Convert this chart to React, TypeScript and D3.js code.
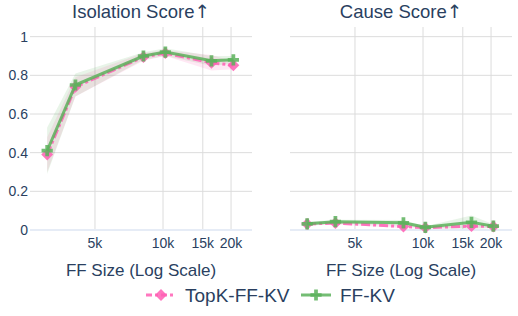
import React from 'react';
import * as d3 from 'd3';

// FF sizes (x) shared by both panels
const ffSizes = [3072, 4096, 8192, 10240, 16384, 20480];
const xTicks = [5000, 10000, 15000, 20000];
const xTickLabels = ['5k', '10k', '15k', '20k'];
const yTicks = [0, 0.2, 0.4, 0.6, 0.8, 1];

// Isolation score
const isoTopK = [0.39, 0.74, 0.895, 0.915, 0.865, 0.852];
const isoTopKStd = [0.09, 0.05, 0.02, 0.015, 0.04, 0.02];
const isoFF = [0.41, 0.75, 0.9, 0.92, 0.875, 0.88];
const isoFFStd = [0.12, 0.06, 0.02, 0.02, 0.025, 0.02];

// Cause score
const causeTopK = [0.031, 0.036, 0.018, 0.012, 0.02, 0.018];
const causeTopKStd = [0.008, 0.008, 0.008, 0.005, 0.008, 0.006];
const causeFF = [0.032, 0.043, 0.037, 0.014, 0.04, 0.02];
const causeFFStd = [0.01, 0.01, 0.015, 0.005, 0.035, 0.01];

const PINK = '#ff5fb4';
const GREEN = '#5cb25c';
const TEXT = '#2a3f5f';
const FONT = '"Liberation Sans", Arial, sans-serif';

const W = 518;
const H = 316;
const top = 27;
const bottom = 230;

const yScale = d3.scaleLinear().domain([0, 1.05]).range([bottom, top]);

type Marker = 'diamond' | 'cross';

const markerPath = (kind: Marker) => {
  const sym = kind === 'diamond' ? d3.symbolDiamond2 : d3.symbolCross;
  return d3.symbol().type(sym).size(kind === 'diamond' ? 90 : 70)() as string;
};

interface SeriesProps {
  x: d3.ScaleLogarithmic<number, number>;
  vals: number[];
  std: number[];
  color: string;
  dash?: string;
  marker: Marker;
}

const Band: React.FC<SeriesProps> = ({ x, vals, std, color }) => {
  const pts = ffSizes.map((s, i) => ({ s, v: vals[i], e: std[i] }));
  const area = d3
    .area<any>()
    .x(d => x(d.s))
    .y0(d => yScale(d.v - d.e))
    .y1(d => yScale(d.v + d.e));
  return <path d={area(pts) as string} fill={color} fillOpacity={0.14} />;
};

const Series: React.FC<SeriesProps> = ({ x, vals, color, dash, marker }) => {
  const pts = ffSizes.map((s, i) => ({ s, v: vals[i] }));
  const line = d3.line<any>().x(d => x(d.s)).y(d => yScale(d.v));
  return (
    <g>
      <path
        d={line(pts) as string}
        fill="none"
        stroke={color}
        strokeWidth={3}
        strokeOpacity={0.85}
        strokeDasharray={dash}
      />
      {pts.map((d, i) => (
        <path
          key={i}
          d={markerPath(marker)}
          transform={`translate(${x(d.s)},${yScale(d.v)})`}
          fill={color}
          fillOpacity={0.85}
        />
      ))}
    </g>
  );
};

interface PanelProps {
  x0: number;
  x1: number;
  title: string;
  topk: number[];
  topkStd: number[];
  ff: number[];
  ffStd: number[];
  showY: boolean;
}

const Panel: React.FC<PanelProps> = ({ x0, x1, title, topk, topkStd, ff, ffStd, showY }) => {
  const x = d3.scaleLog().domain([2579, 24760]).range([x0, x1]);
  return (
    <g>
      {yTicks.filter(t => t !== 0).map(t => (
        <line key={t} x1={x0} x2={x1} y1={yScale(t)} y2={yScale(t)} stroke="#dcdcdc" strokeWidth={1} />
      ))}
      {xTicks.map(t => (
        <line key={t} x1={x(t)} x2={x(t)} y1={top} y2={bottom} stroke="#dcdcdc" strokeWidth={1} />
      ))}
      <line x1={x0} x2={x1} y1={yScale(0)} y2={yScale(0)} stroke="#e6ecf6" strokeWidth={2} />
      {showY &&
        yTicks.map(t => (
          <text
            key={t}
            x={x0 - 2}
            y={yScale(t)}
            dy="0.35em"
            textAnchor="end"
            fontSize={14}
            fill={TEXT}
            fontFamily={FONT}
          >
            {d3.format('~g')(t)}
          </text>
        ))}
      {xTicks.map((t, i) => (
        <text key={t} x={x(t)} y={bottom + 8} dy="0.71em" textAnchor="middle" fontSize={14} fill={TEXT} fontFamily={FONT}>
          {xTickLabels[i]}
        </text>
      ))}
      <text x={(x0 + x1) / 2} y={276} textAnchor="middle" fontSize={17} fill={TEXT} fontFamily={FONT}>
        FF Size (Log Scale)
      </text>
      <text x={(x0 + x1) / 2} y={18} textAnchor="middle" fontSize={18.5} fill={TEXT} fontFamily={FONT}>
        {title}
        <tspan fontFamily='"DejaVu Sans", sans-serif'>↑</tspan>
      </text>
      <Band x={x} vals={topk} std={topkStd} color={PINK} marker="diamond" />
      <Band x={x} vals={ff} std={ffStd} color={GREEN} marker="cross" />
      <Series x={x} vals={topk} std={topkStd} color={PINK} dash="9,3,3,3" marker="diamond" />
      <Series x={x} vals={ff} std={ffStd} color={GREEN} marker="cross" />
    </g>
  );
};

const LegendItem: React.FC<{ x: number; label: string; color: string; dash?: string; marker: Marker }> = ({
  x,
  label,
  color,
  dash,
  marker,
}) => (
  <g transform={`translate(${x},295)`}>
    <line x1={0} x2={30} y1={0} y2={0} stroke={color} strokeWidth={3} strokeOpacity={0.85} strokeDasharray={dash} />
    <path d={markerPath(marker)} transform="translate(15,0)" fill={color} fillOpacity={0.85} />
    <text x={39} y={0} dy="0.35em" fontSize={19} fill={TEXT} fontFamily={FONT}>
      {label}
    </text>
  </g>
);

export default function App() {
  return (
    <svg width={W} height={H} style={{ position: 'absolute', left: 0, top: 0, background: '#fff' }}>
      <Panel
        x0={30}
        x1={252}
        title="Isolation Score"
        topk={isoTopK}
        topkStd={isoTopKStd}
        ff={isoFF}
        ffStd={isoFFStd}
        showY={true}
      />
      <Panel
        x0={290}
        x1={512}
        title="Cause Score"
        topk={causeTopK}
        topkStd={causeTopKStd}
        ff={causeFF}
        ffStd={causeFFStd}
        showY={false}
      />
      <LegendItem x={146} label="TopK-FF-KV" color={PINK} dash="6,3,3,3" marker="diamond" />
      <LegendItem x={301} label="FF-KV" color={GREEN} marker="cross" />
    </svg>
  );
}
